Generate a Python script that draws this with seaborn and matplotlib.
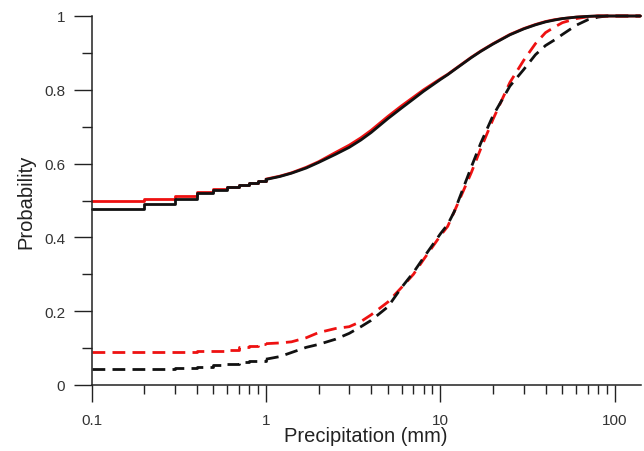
import numpy as np
import pandas as pd
import seaborn as sns
import matplotlib
matplotlib.use("Agg")
import matplotlib.pyplot as plt
from matplotlib.ticker import FixedLocator, FuncFormatter, LogLocator, NullFormatter

# ---- data ----
# low range, 0.1 mm resolution steps
x_low = [0.1, 0.2, 0.3, 0.4, 0.5, 0.6, 0.7, 0.8, 0.9, 1.0]
red_solid_low = [0.499, 0.505, 0.513, 0.522, 0.530, 0.537, 0.543, 0.548, 0.553, 0.558]
black_solid_low = [0.478, 0.490, 0.503, 0.519, 0.529, 0.536, 0.542, 0.547, 0.552, 0.557]
red_dash_low = [0.089, 0.089, 0.090, 0.091, 0.092, 0.094, 0.104, 0.107, 0.110, 0.112]
black_dash_low = [0.043, 0.044, 0.047, 0.050, 0.053, 0.057, 0.061, 0.064, 0.066, 0.070]

# high range, continuous part
x_high = [1.0, 1.2, 1.4, 1.7, 2.0, 2.5, 3.0, 3.5, 4.0, 5.0, 6.0, 7.0, 8.0, 10, 11, 12,
          15, 17, 20, 25, 30, 35, 40, 45, 50, 60, 70, 80, 90, 100, 140]
red_solid_high = [0.558, 0.566, 0.575, 0.590, 0.605, 0.630, 0.650, 0.670, 0.690, 0.728,
                  0.757, 0.780, 0.800, 0.830, 0.842, 0.855, 0.888, 0.905, 0.925, 0.950,
                  0.966, 0.977, 0.985, 0.990, 0.993, 0.997, 0.999, 1.0, 1.0, 1.0, 1.0]
black_solid_high = [0.557, 0.565, 0.574, 0.588, 0.603, 0.625, 0.644, 0.664, 0.684, 0.722,
                    0.751, 0.775, 0.796, 0.828, 0.841, 0.854, 0.887, 0.904, 0.924, 0.949,
                    0.965, 0.976, 0.984, 0.989, 0.993, 0.997, 0.999, 1.0, 1.0, 1.0, 1.0]
red_dash_high = [0.112, 0.114, 0.117, 0.128, 0.142, 0.153, 0.158, 0.172, 0.190, 0.225,
                 0.265, 0.300, 0.340, 0.405, 0.430, 0.470, 0.575, 0.640, 0.720, 0.820,
                 0.880, 0.925, 0.955, 0.970, 0.982, 0.993, 0.998, 1.0, 1.0, 1.0, 1.0]
black_dash_high = [0.070, 0.077, 0.088, 0.102, 0.110, 0.124, 0.140, 0.158, 0.175, 0.212,
                   0.265, 0.305, 0.345, 0.410, 0.435, 0.470, 0.590, 0.655, 0.730, 0.810,
                   0.855, 0.895, 0.920, 0.935, 0.950, 0.975, 0.990, 0.997, 1.0, 1.0, 1.0]

x_ticks = [0.1, 1, 10, 100]
y_ticks = [0, 0.2, 0.4, 0.6, 0.8, 1.0]

# ---- style ----
sns.set_theme(style="ticks")
plt.rcParams['font.family'] = ['Liberation Sans', 'DejaVu Sans']

fig = plt.figure(figsize=(6.44, 4.52), dpi=100)
ax = fig.add_axes([91.5 / 644, 1 - 386 / 452, (641 - 91.5) / 644, (386 - 17) / 452])

dash = (0, (4.6, 2.6))
series = [
    (red_dash_low, red_dash_high, "#ee1111", dash),
    (black_dash_low, black_dash_high, "#111111", dash),
    (red_solid_low, red_solid_high, "#ee1111", "-"),
    (black_solid_low, black_solid_high, "#111111", "-"),
]

for low, high, col, ls in series:
    dlow = pd.DataFrame({"x": x_low, "y": low})
    dhigh = pd.DataFrame({"x": x_high, "y": high})
    sns.lineplot(data=dlow, x="x", y="y", ax=ax, color=col, linestyle=ls,
                 linewidth=2.0, drawstyle="steps-post", estimator=None, sort=False,
                 clip_on=False)
    sns.lineplot(data=dhigh, x="x", y="y", ax=ax, color=col, linestyle=ls,
                 linewidth=2.0, estimator=None, sort=False, clip_on=False)

ax.set_xscale("log")
ax.set_xlim(0.1, 141)
ax.set_ylim(0, 1)

ax.xaxis.set_major_locator(FixedLocator(x_ticks))
ax.xaxis.set_major_formatter(FuncFormatter(lambda v, p: f"{v:g}"))
ax.xaxis.set_minor_locator(LogLocator(base=10, subs=np.arange(2, 10), numticks=20))
ax.xaxis.set_minor_formatter(NullFormatter())
ax.yaxis.set_major_locator(FixedLocator(y_ticks))
ax.yaxis.set_major_formatter(FuncFormatter(lambda v, p: f"{v:g}"))
ax.yaxis.set_minor_locator(FixedLocator([0.1, 0.3, 0.5, 0.7, 0.9]))

for s in ["top", "right"]:
    ax.spines[s].set_visible(False)
for s in ["left", "bottom"]:
    ax.spines[s].set_color("#222222")
    ax.spines[s].set_linewidth(1.1)

ax.tick_params(axis="y", which="major", length=13, width=1.0, color="#222222",
               labelsize=11, labelcolor="#333333", pad=6)
ax.tick_params(axis="y", which="minor", length=7, width=1.0, color="#222222")
ax.tick_params(axis="x", which="major", length=12.5, width=1.0, color="#222222",
               labelsize=11, labelcolor="#333333", pad=8)
ax.tick_params(axis="x", which="minor", length=6.5, width=1.0, color="#222222")

ax.set_xlabel("Precipitation (mm)", fontsize=14.5, color="#222222", labelpad=-1)
ax.set_ylabel("Probability", fontsize=14.5, color="#222222", labelpad=6)

fig.savefig("out.png", dpi=100)
